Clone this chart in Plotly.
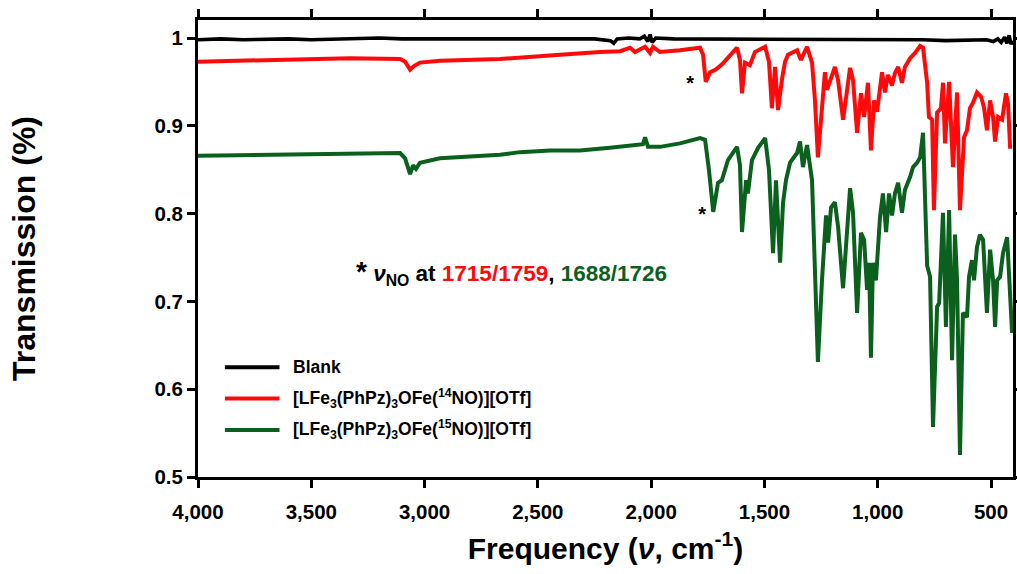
import plotly.graph_objects as go

# ---- IR spectra: wavenumber (cm-1) and transmission ----
blank_nu = [4000, 3900, 3800, 3700, 3600, 3500, 3400, 3300, 3200, 3100, 3000, 2900, 2800,
            2700, 2600, 2500, 2400, 2300, 2250, 2180, 2165, 2150, 2100, 2050, 2030, 2015,
            2005, 1995, 1980, 1900, 1800, 1700, 1600, 1500, 1400, 1300, 1200, 1100, 1000,
            900, 800, 700, 600, 520, 490, 470, 455, 440, 430, 420, 412, 405]
blank_t = [0.998, 0.999, 0.998, 0.999, 0.999, 0.998, 0.999, 0.999, 1.000, 0.999, 0.999, 1.000,
           0.999, 0.999, 1.000, 0.999, 0.999, 1.000, 0.999, 0.997, 0.994, 0.999, 1.000, 0.999,
           1.002, 0.996, 1.004, 0.995, 1.000, 0.999, 0.999, 0.999, 0.999, 0.999, 0.998, 0.998,
           0.998, 0.998, 0.998, 0.998, 0.998, 0.997, 0.997, 0.998, 0.996, 0.999, 0.995, 1.001,
           0.994, 1.003, 0.993, 0.997]

no14_nu = [4000, 3770, 3550, 3329, 3108, 3086, 3064, 3047, 3020, 2932, 2667, 2535, 2402,
           2226, 2137, 2093, 2071, 2027, 2005, 1992, 1961, 1873, 1784, 1771, 1759, 1740,
           1715, 1687, 1621, 1608, 1599, 1586, 1564, 1542, 1497, 1480, 1467, 1453, 1440,
           1422, 1409, 1396, 1356, 1339, 1312, 1290, 1277, 1264, 1246, 1233, 1224, 1211,
           1189, 1175, 1153, 1122, 1109, 1091, 1074, 1060, 1043, 1030, 1016, 1003, 981,
           968, 955, 937, 924, 910, 893, 880, 857, 835, 813, 800, 782, 774, 760, 752, 738,
           721, 712, 703, 685, 668, 650, 637, 619, 606, 593, 580, 562, 544, 531, 518, 504,
           491, 482, 469, 451, 434, 425, 416, 407]
no14_t = [0.973, 0.974, 0.976, 0.977, 0.976, 0.973, 0.964, 0.968, 0.972, 0.974, 0.976, 0.978,
          0.981, 0.984, 0.985, 0.989, 0.984, 0.990, 0.983, 0.990, 0.984, 0.986, 0.989, 0.981,
          0.950, 0.961, 0.964, 0.970, 0.989, 0.975, 0.937, 0.972, 0.969, 0.984, 0.990, 0.973,
          0.920, 0.967, 0.918, 0.954, 0.973, 0.981, 0.986, 0.975, 0.990, 0.972, 0.929, 0.864,
          0.926, 0.961, 0.941, 0.952, 0.967, 0.952, 0.907, 0.966, 0.952, 0.892, 0.937, 0.910,
          0.949, 0.872, 0.929, 0.916, 0.961, 0.938, 0.958, 0.946, 0.960, 0.967, 0.949, 0.967,
          0.977, 0.983, 0.991, 0.989, 0.949, 0.910, 0.907, 0.804, 0.915, 0.920, 0.949, 0.880,
          0.950, 0.853, 0.938, 0.804, 0.887, 0.895, 0.920, 0.926, 0.938, 0.933, 0.921, 0.895,
          0.929, 0.910, 0.882, 0.910, 0.907, 0.937, 0.926, 0.876, 0.876]

no15_nu = [4000, 3770, 3550, 3329, 3108, 3086, 3064, 3051, 3038, 3020, 2932, 2667, 2579,
           2446, 2314, 2182, 2093, 2036, 2027, 2014, 1961, 1873, 1784, 1762, 1745, 1726,
           1705, 1688, 1661, 1621, 1608, 1599, 1581, 1573, 1555, 1528, 1497, 1480, 1462,
           1449, 1431, 1418, 1405, 1387, 1356, 1343, 1330, 1312, 1290, 1277, 1264, 1246,
           1237, 1228, 1219, 1206, 1189, 1175, 1153, 1122, 1109, 1091, 1074, 1060, 1047,
           1038, 1030, 1021, 1008, 990, 977, 963, 950, 937, 924, 910, 893, 880, 857, 844,
           826, 813, 800, 782, 769, 756, 738, 729, 712, 699, 685, 672, 659, 650, 637, 624,
           606, 597, 584, 575, 562, 549, 535, 518, 504, 491, 482, 473, 460, 447, 429, 420,
           411, 407]
no15_t = [0.866, 0.867, 0.868, 0.868, 0.869, 0.863, 0.845, 0.855, 0.851, 0.858, 0.863, 0.867,
          0.870, 0.872, 0.872, 0.875, 0.878, 0.879, 0.887, 0.876, 0.876, 0.880, 0.886, 0.884,
          0.850, 0.802, 0.835, 0.838, 0.861, 0.876, 0.855, 0.779, 0.838, 0.823, 0.861, 0.875,
          0.886, 0.850, 0.755, 0.838, 0.744, 0.812, 0.838, 0.858, 0.869, 0.882, 0.853, 0.878,
          0.838, 0.736, 0.631, 0.724, 0.767, 0.798, 0.767, 0.807, 0.813, 0.785, 0.715, 0.829,
          0.801, 0.687, 0.778, 0.770, 0.713, 0.744, 0.636, 0.744, 0.724, 0.796, 0.823, 0.779,
          0.823, 0.798, 0.823, 0.835, 0.801, 0.827, 0.842, 0.853, 0.858, 0.864, 0.892, 0.741,
          0.728, 0.557, 0.694, 0.698, 0.801, 0.671, 0.804, 0.633, 0.776, 0.724, 0.525, 0.687,
          0.682, 0.728, 0.747, 0.724, 0.762, 0.776, 0.770, 0.687, 0.759, 0.724, 0.671, 0.724,
          0.728, 0.755, 0.773, 0.724, 0.664, 0.664]

series_names = [
    "Blank",
    "[LFe<sub>3</sub>(PhPz)<sub>3</sub>OFe(<sup>14</sup>NO)][OTf]",
    "[LFe<sub>3</sub>(PhPz)<sub>3</sub>OFe(<sup>15</sup>NO)][OTf]",
]
series_colors = ["#000000", "#FF0A0A", "#0B601E"]

# peaks marked with an asterisk (nu_NO, 14NO and 15NO samples)
star_nu = [1828, 1775]
star_t = [0.947, 0.797]

FONT = "Liberation Sans, Arial, sans-serif"

fig = go.Figure()
for nu, t, name, col, w in zip([blank_nu, no14_nu, no15_nu], [blank_t, no14_t, no15_t],
                               series_names, series_colors, [3.6, 4.0, 4.0]):
    fig.add_trace(go.Scatter(x=nu, y=t, mode="lines", name=name,
                             line=dict(color=col, width=w), showlegend=False))

fig.add_trace(go.Scatter(x=star_nu, y=star_t, mode="text", text=["*", "*"],
                         textfont=dict(family=FONT, size=20, color="black", weight="bold"),
                         showlegend=False, hoverinfo="skip"))

# legend drawn as line samples + labels in the lower-left corner
leg_y = [0.240, 0.172, 0.103]
for yy, name, col in zip(leg_y, series_names, series_colors):
    fig.add_shape(type="line", xref="paper", yref="paper", x0=0.033, x1=0.100,
                  y0=yy, y1=yy, line=dict(color=col, width=4))
    fig.add_annotation(xref="paper", yref="paper", x=0.114, y=yy, xanchor="left",
                       yanchor="middle", text="<b>" + name + "</b>", showarrow=False,
                       font=dict(family=FONT, size=17.5, color="black"))

fig.add_annotation(
    x=3310, y=0.733, xanchor="left", yanchor="middle", showarrow=False,
    text=("<b><span style='font-size:28px'>*</span> <i>ν</i><sub>NO</sub> at "
          "<span style='color:#FF0A0A'>1715/1759</span>, "
          "<span style='color:#0B601E'>1688/1726</span></b>"),
    font=dict(family=FONT, size=22.5, color="black"))

axis_common = dict(showline=True, linewidth=3, linecolor="black", mirror="ticks",
                   ticks="outside", ticklen=8, tickwidth=3, tickcolor="black",
                   showgrid=False, zeroline=False, automargin=False,
                   tickfont=dict(family=FONT, size=20.5, color="black", weight="bold"))

fig.update_xaxes(range=[4000, 403], tickvals=[4000, 3500, 3000, 2500, 2000, 1500, 1000, 500],
                 tickformat=",d", ticklabelstandoff=6,
                 title=dict(text="Frequency (<i>ν</i>, cm<sup>-1</sup>)", standoff=17,
                            font=dict(family=FONT, size=30, color="black", weight="bold")),
                 **axis_common)
fig.update_yaxes(range=[0.5, 1.0205], tickvals=[0.5, 0.6, 0.7, 0.8, 0.9, 1.0],
                 ticktext=["0.5", "0.6", "0.7", "0.8", "0.9", "1"],
                 title=dict(text="Transmission (%)", standoff=110,
                            font=dict(family=FONT, size=32, color="black", weight="bold")),
                 **axis_common)

fig.update_layout(width=1017, height=574, margin=dict(l=198, r=4, t=20, b=97),
                  plot_bgcolor="white", paper_bgcolor="white")

fig.write_html("out.html")
